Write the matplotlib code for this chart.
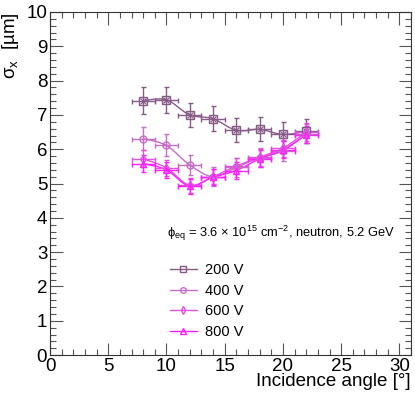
import numpy as np
import matplotlib
matplotlib.use('Agg')
import matplotlib.pyplot as plt
from matplotlib.path import Path
from matplotlib.patches import PathPatch
from matplotlib.ticker import MultipleLocator

plt.rcParams['font.family'] = ['Liberation Sans', 'DejaVu Sans']
plt.rcParams['mathtext.fontset'] = 'custom'
plt.rcParams['mathtext.rm'] = 'Liberation Sans'
plt.rcParams['mathtext.it'] = 'Liberation Sans'

# incidence angles [deg]
angles = [8, 10, 12, 14, 16, 18, 20, 22]
angle_err = [1, 1, 1, 1, 1, 1, 1, 1]

# sigma_x [um] per bias voltage
sigma_200 = [7.42, 7.44, 7.00, 6.89, 6.55, 6.58, 6.43, 6.52]
sigma_400 = [6.31, 6.11, 5.54, 5.20, 5.47, 5.75, 5.95, 6.45]
sigma_600 = [5.72, 5.46, 4.95, 5.20, 5.51, 5.77, 6.03, 6.50]
sigma_800 = [5.58, 5.40, 4.92, 5.19, 5.38, 5.72, 5.98, 6.42]
err_200 = [0.38, 0.37, 0.36, 0.36, 0.35, 0.35, 0.35, 0.35]
err_400 = [0.33, 0.32, 0.30, 0.28, 0.28, 0.28, 0.28, 0.28]
err_600 = [0.25, 0.24, 0.22, 0.22, 0.24, 0.25, 0.25, 0.25]
err_800 = [0.25, 0.24, 0.22, 0.22, 0.24, 0.25, 0.25, 0.25]

labels = ['200 V', '400 V', '600 V', '800 V']
colors = ['#875a87', '#c56ec5', '#e052e0', '#ff1eff']
markers = ['s', 'o', 'd', '^']


def smooth_path(x, y):
    # Catmull-Rom curve through the points, drawn as cubic Bezier segments
    p = np.column_stack([x, y]).astype(float)
    ext = np.vstack([p[0], p, p[-1]])
    verts = [p[0]]
    codes = [Path.MOVETO]
    for i in range(1, len(ext) - 2):
        c1 = ext[i] + (ext[i + 1] - ext[i - 1]) / 6.0
        c2 = ext[i + 1] - (ext[i + 2] - ext[i]) / 6.0
        verts += [c1, c2, ext[i + 1]]
        codes += [Path.CURVE4] * 3
    return Path(verts, codes)


fig = plt.figure(figsize=(4.15, 3.99), dpi=100)
ax = fig.add_axes([0.1205, 0.110, 0.870, 0.860])

series = [(sigma_200, err_200), (sigma_400, err_400),
          (sigma_600, err_600), (sigma_800, err_800)]
handles = []
for (vals, errs), lab, col, mk in zip(series, labels, colors, markers):
    ax.add_patch(PathPatch(smooth_path(angles, vals), facecolor='none',
                           edgecolor=col, lw=1.0, zorder=2))
    ax.errorbar(angles, vals, xerr=angle_err, yerr=errs, fmt='none',
                ecolor=col, elinewidth=1.0, capsize=1.8, capthick=1.0,
                zorder=3)
    ms = {'s': 6, 'o': 5, 'd': 4.5, '^': 5}[mk]
    ax.plot(angles, vals, ls='none', marker=mk, mfc='none', mec=col,
            ms=ms, mew=1.0, zorder=4)
    if mk == 's':
        ax.plot(angles, vals, ls='none', marker='x', color=col, ms=4,
                mew=0.9, zorder=4)
    if mk == 'o':
        ax.plot(angles, vals, ls='none', marker='+', color=col, ms=5,
                mew=0.9, zorder=4)
    h, = ax.plot([], [], color=col, lw=1.0, marker=mk, mfc='none',
                 mec=col, ms=4, mew=1.0)
    handles.append(h)

ax.set_xlim(0, 31)
ax.set_ylim(0, 10)
ax.xaxis.set_major_locator(MultipleLocator(5))
ax.xaxis.set_minor_locator(MultipleLocator(1))
ax.yaxis.set_major_locator(MultipleLocator(1))
ax.yaxis.set_minor_locator(MultipleLocator(0.2))
ax.tick_params(which='both', direction='in', top=True, right=True,
               labelsize=13.5, width=0.8, color='#555555', pad=2)
ax.tick_params(which='major', length=9)
ax.tick_params(which='minor', length=4.5)
for s in ax.spines.values():
    s.set_linewidth(0.8)
    s.set_color('#333333')

ax.set_xlabel('Incidence angle [°]', fontsize=13.5, loc='right', labelpad=-1)
ax.set_ylabel(r'$\sigma_{\mathrm{x}}$  [µm]', fontsize=13.5, loc='top',
              labelpad=4)

ax.text(0.325, 0.355,
        r'$\phi_{\mathrm{eq}}$ = 3.6 $\times$ 10$^{15}$ cm$^{-2}$, neutron, 5.2 GeV',
        transform=ax.transAxes, fontsize=9.3, va='center', ha='left')

ax.legend(handles, labels, loc='upper left', bbox_to_anchor=(0.315, 0.285),
          frameon=False, fontsize=10.5, handlelength=1.9, handletextpad=0.5,
          labelspacing=0.45, borderaxespad=0)

fig.savefig('out.png', dpi=100)
